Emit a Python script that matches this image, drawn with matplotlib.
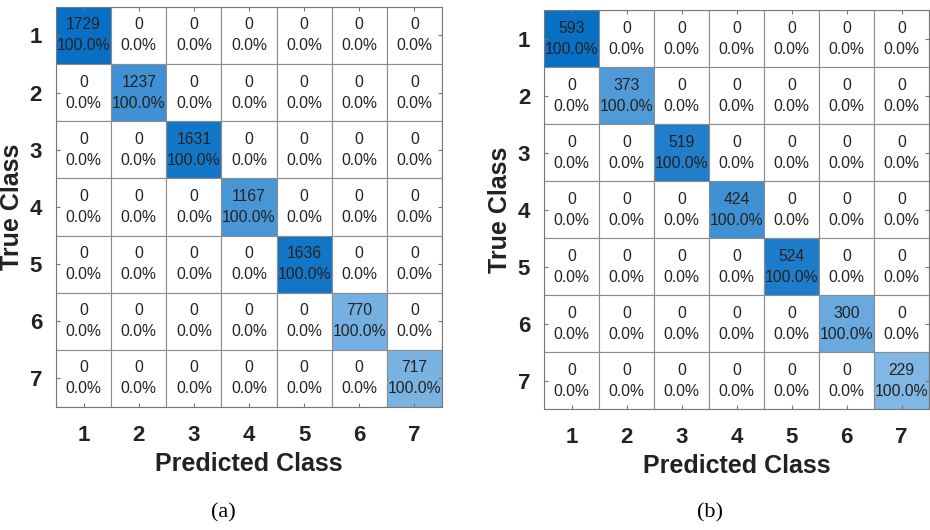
import numpy as np
import matplotlib
matplotlib.use("Agg")
import matplotlib.pyplot as plt
from matplotlib.colors import LinearSegmentedColormap

plt.rcParams["font.family"] = ["Liberation Sans", "DejaVu Sans"]

classes = ["1", "2", "3", "4", "5", "6", "7"]
counts_a = [1729, 1237, 1631, 1167, 1636, 770, 717]
counts_b = [593, 373, 519, 424, 524, 300, 229]
panel_labels = ["(a)", "(b)"]

blues = LinearSegmentedColormap.from_list(
    "cm_blues", [(0.80, 0.89, 0.97), (0.03, 0.44, 0.77)])


def draw_confusion(ax, diag):
    n = len(diag)
    cm = np.diag(diag)
    total = cm.sum(axis=1)
    peak = max(diag)
    for i in range(n):
        for j in range(n):
            v = cm[i, j]
            if v > 0:
                color = blues(v / peak)
            else:
                color = "white"
            ax.add_patch(plt.Rectangle((j - 0.5, i - 0.5), 1, 1,
                                       facecolor=color, edgecolor="#8c8c8c",
                                       linewidth=0.8))
            pct = 100.0 * v / total[i] if total[i] else 0.0
            ax.text(j, i, f"{v}\n{pct:.1f}%", ha="center", va="center",
                    fontsize=11.3, color="#222222", linespacing=1.5)
    ax.set_xlim(-0.5, n - 0.5)
    ax.set_ylim(n - 0.5, -0.5)
    ax.set_xticks(range(n))
    ax.set_yticks(range(n))
    ax.set_xticklabels(classes, fontsize=16, fontweight="bold")
    ax.set_yticklabels(classes, fontsize=16, fontweight="bold")
    ax.tick_params(axis="x", pad=13)
    ax.tick_params(axis="y", pad=10)
    ax.tick_params(direction="in", length=3, color="#777777", width=0.8,
                   top=True, right=True, labelcolor="#222222")
    for s in ax.spines.values():
        s.set_color("#777777")
        s.set_linewidth(0.8)
    ax.set_xlabel("Predicted Class", fontsize=18, fontweight="bold",
                  labelpad=4, color="#222222")
    ax.set_ylabel("True Class", fontsize=18, fontweight="bold",
                  labelpad=4, color="#222222")


fig = plt.figure(figsize=(9.3, 5.3), dpi=100)
ax1 = fig.add_axes([0.0602, 0.232, 0.415, 0.755])
ax2 = fig.add_axes([0.585, 0.228, 0.414, 0.753])
draw_confusion(ax1, counts_a)
draw_confusion(ax2, counts_b)

fig.text(0.240, 0.032, panel_labels[0], ha="center", va="center",
         fontsize=16, family=["Liberation Serif", "DejaVu Serif"])
fig.text(0.763, 0.032, panel_labels[1], ha="center", va="center",
         fontsize=16, family=["Liberation Serif", "DejaVu Serif"])

fig.savefig("out.png", dpi=100, facecolor="white")
